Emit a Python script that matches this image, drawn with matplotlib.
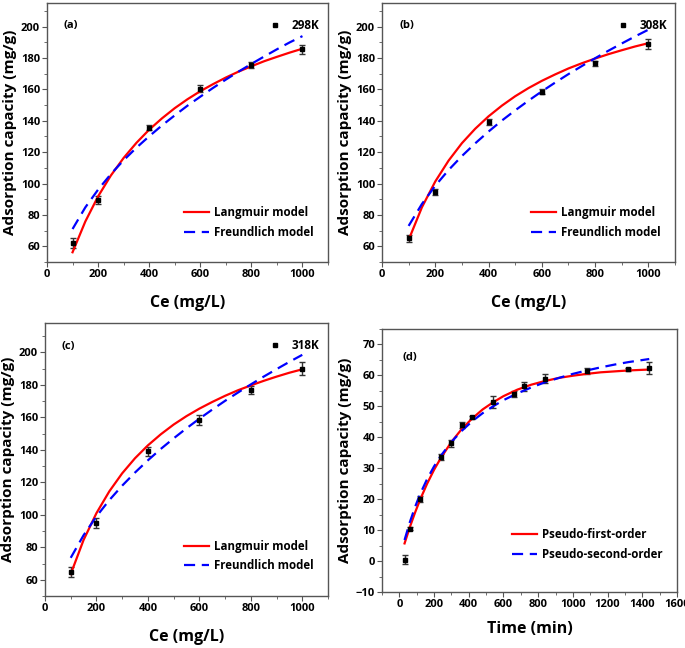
import matplotlib
matplotlib.use("Agg")
import matplotlib.pyplot as plt
from matplotlib.lines import Line2D
from matplotlib.ticker import MultipleLocator, AutoMinorLocator

plt.rcParams["font.family"] = ["Open Sans", "DejaVu Sans"]
plt.rcParams["font.weight"] = "bold"

# isotherm data
ce = [100, 200, 400, 600, 800, 1000]
q_298 = [62, 89.5, 135.5, 160.5, 175.5, 185.5]
err_298 = [3, 2.5, 1.5, 2, 2, 3]
q_308 = [65, 94.5, 139, 158.5, 176.5, 189]
err_308 = [2.5, 2, 2, 1.5, 1.5, 3]
q_318 = [65, 95, 139, 158.5, 177, 190]
err_318 = [3, 3, 3, 3, 2.5, 4]

# fitted curves
ce_fit = [100, 150, 200, 250, 300, 350, 400, 450, 500, 550, 600,
          650, 700, 750, 800, 850, 900, 950, 1000]
lang_298 = [56.2, 75.8, 91.8, 105.1, 116.3, 125.9, 134.3, 141.5, 148.0, 153.7,
            158.8, 163.3, 167.5, 171.3, 174.7, 177.9, 180.7, 183.4, 185.9]
freu_298 = [71.0, 84.8, 96.1, 106.0, 114.8, 122.8, 130.1, 137.0, 143.4, 149.6,
            155.3, 160.9, 166.2, 171.3, 176.2, 180.9, 185.5, 189.9, 193.9]
lang_308 = [64.1, 84.9, 101.3, 114.6, 125.7, 134.9, 142.8, 149.6, 155.6, 160.8,
            165.4, 169.5, 173.3, 176.6, 179.6, 182.4, 184.9, 187.3, 189.4]
freu_308 = [73.0, 87.0, 98.6, 108.6, 117.5, 125.6, 133.1, 140.1, 146.6, 152.8,
            158.7, 164.3, 169.7, 174.8, 179.8, 184.6, 189.2, 193.7, 198.0]
lang_318 = [63.5, 84.5, 101.0, 114.4, 125.5, 134.8, 142.7, 149.5, 155.5, 160.7,
            165.3, 169.4, 173.2, 176.6, 179.6, 182.4, 185.0, 187.4, 189.5]
freu_318 = [73.5, 87.4, 99.0, 109.0, 117.9, 126.0, 133.5, 140.5, 147.0, 153.2,
            159.1, 164.7, 170.1, 175.2, 180.2, 185.0, 189.6, 194.1, 198.4]

# kinetics data
t = [30, 60, 120, 240, 300, 360, 420, 540, 660, 720, 840, 1080, 1320, 1440]
q_t = [0.5, 10.5, 20, 33.5, 38, 44, 46.5, 51.5, 54, 56.5, 59, 61.5, 62, 62.3]
err_t = [1.5, 0.5, 1, 1, 1, 1, 0.5, 2, 1, 1.5, 1.5, 1, 0.5, 2]
t_fit = [30, 60, 90, 120, 160, 200, 240, 300, 360, 420, 480, 540, 600, 680,
         760, 840, 920, 1000, 1080, 1160, 1240, 1320, 1440]
pfo = [5.7, 10.9, 15.6, 19.9, 25.0, 29.5, 33.4, 38.5, 42.7, 46.1, 49.0, 51.3,
       53.3, 55.4, 57.0, 58.2, 59.2, 59.9, 60.5, 61.0, 61.3, 61.6, 61.9]
pso = [6.8, 12.5, 17.4, 21.7, 26.5, 30.6, 34.1, 38.5, 42.1, 45.2, 47.8, 50.0,
       52.0, 54.2, 56.1, 57.8, 59.2, 60.5, 61.6, 62.6, 63.5, 64.3, 65.3]

W, H = 685, 648
fig = plt.figure(figsize=(W / 100, H / 100), dpi=100)


def make_ax(l, t_, r, b):
    return fig.add_axes([l / W, 1 - b / H, (r - l) / W, (b - t_) / H])


def style(ax):
    for s in ax.spines.values():
        s.set_color("#555555")
        s.set_linewidth(1.0)
    ax.tick_params(which="both", direction="out", top=False, right=False,
                   labelsize=8, color="#555555", pad=1.5)
    ax.tick_params(which="major", length=3.5)
    ax.tick_params(which="minor", length=2)
    ax.xaxis.set_minor_locator(AutoMinorLocator(2))
    ax.yaxis.set_minor_locator(AutoMinorLocator(2))
    for lab in ax.get_xticklabels() + ax.get_yticklabels():
        lab.set_fontweight("bold")


def iso_panel(ax, tag, temp, q, err, lang, freu, ytop):
    ax.errorbar(ce, q, yerr=err, fmt="s", color="black", ms=3.5,
                ecolor="#333333", elinewidth=1, capsize=2.5)
    l1, = ax.plot(ce_fit, lang, color="red", lw=1.6, label="Langmuir model")
    l2, = ax.plot(ce_fit, freu, color="blue", lw=1.6, ls=(0, (5, 3)),
                  label="Freundlich model")
    ax.set_xlim(0, 1100)
    ax.set_ylim(50, ytop)
    ax.xaxis.set_major_locator(MultipleLocator(200))
    ax.yaxis.set_major_locator(MultipleLocator(20))
    ax.set_xlabel("Ce (mg/L)", fontsize=11.5, fontweight="bold", labelpad=11)
    ax.set_ylabel("Adsorption capacity (mg/g)", fontsize=11, fontweight="bold",
                  labelpad=3)
    ax.text(0.06, 0.915, tag, transform=ax.transAxes, fontsize=8,
            fontweight="bold", va="center")
    pts = Line2D([], [], ls="none", marker="s", color="black", ms=3.5)
    leg1 = ax.legend(handles=[pts], labels=[temp], loc="upper right",
                     bbox_to_anchor=(1.0, 0.97), frameon=False,
                     fontsize=8.5, handletextpad=0.4, borderaxespad=0.3)
    ax.add_artist(leg1)
    ax.legend(handles=[l1, l2], loc="lower right", bbox_to_anchor=(0.985, 0.05),
              frameon=False, fontsize=8.3, handlelength=2.2,
              handletextpad=0.4, labelspacing=0.55)
    style(ax)


ax_a = make_ax(47, 3, 328, 262)
iso_panel(ax_a, "(a)", "298K", q_298, err_298, lang_298, freu_298, 215)

ax_b = make_ax(382, 3, 675, 262)
iso_panel(ax_b, "(b)", "308K", q_308, err_308, lang_308, freu_308, 215)

ax_c = make_ax(45, 323, 328, 596)
iso_panel(ax_c, "(c)", "318K", q_318, err_318, lang_318, freu_318, 218)

ax_d = make_ax(382, 329, 677, 592)
ax_d.errorbar(t, q_t, yerr=err_t, fmt="s", color="black", ms=3.5,
              ecolor="#333333", elinewidth=1, capsize=2.5)
d1, = ax_d.plot(t_fit, pfo, color="red", lw=1.6, label="Pseudo-first-order")
d2, = ax_d.plot(t_fit, pso, color="blue", lw=1.6, ls=(0, (5, 3)),
                label="Pseudo-second-order")
ax_d.set_xlim(-100, 1600)
ax_d.set_ylim(-10, 75)
ax_d.xaxis.set_major_locator(MultipleLocator(200))
ax_d.yaxis.set_major_locator(MultipleLocator(10))
ax_d.set_xlabel("Time (min)", fontsize=11.5, fontweight="bold", labelpad=8)
ax_d.set_ylabel("Adsorption capacity (mg/g)", fontsize=11, fontweight="bold",
                labelpad=3)
ax_d.text(0.07, 0.89, "(d)", transform=ax_d.transAxes, fontsize=8,
          fontweight="bold", va="center")
ax_d.legend(handles=[d1, d2], loc="lower right", bbox_to_anchor=(0.985, 0.08),
            frameon=False, fontsize=8.3, handlelength=2.2,
            handletextpad=0.4, labelspacing=0.55)
style(ax_d)

fig.savefig("out.png", dpi=100)
